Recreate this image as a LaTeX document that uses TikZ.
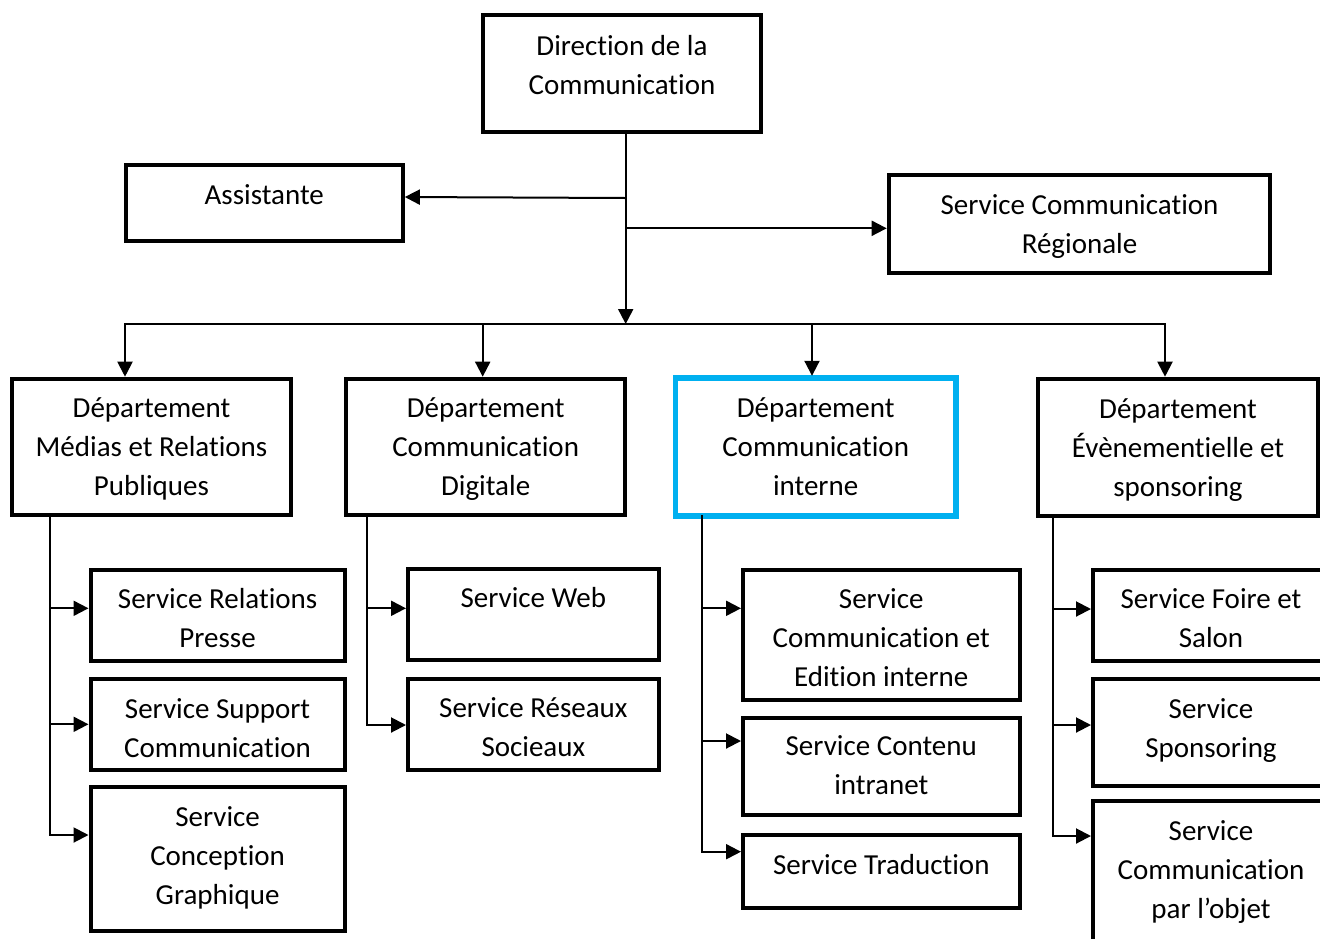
\documentclass[tikz,border=0pt]{standalone}
\usepackage{fontspec}
\setmainfont{Carlito}[RawFeature={-liga,-clig,-calt,-dlig}]
\usetikzlibrary{arrows.meta,calc}
\definecolor{skyblue}{RGB}{0,176,240}

% \orgunit[style]{name}{left}{top}{right}{bottom}{first baseline}{text}
\newcommand\orgunit[8][]{%
  \pgfmathsetmacro\unitw{#5-#3}%
  \pgfmathsetmacro\unith{#6-#4}%
  \node[unit,#1] (#2) at (#3,#4)
    {\parbox[t][\unith pt][t]{\unitw pt}{\centering\fontsize{29}{39}\selectfont\rule{0pt}{#7pt}#8\par}};%
}

\tikzset{
  unit/.style={draw=black, line width=4pt, fill=white, inner sep=0pt,
    outer sep=0pt, anchor=north west},
  highlight/.style={draw=skyblue, line width=5.5pt},
  conn/.style={draw=black, line width=2pt, line cap=rect},
  arr/.style={conn, -{Triangle[length=15pt,width=15pt]}},
  arrbox/.style={arr, shorten >=2pt},
}

\begin{document}
\begin{tikzpicture}[x=1pt, y=-1pt]
  \useasboundingbox (0,0) rectangle (1320,938);
  \clip (0,0) rectangle (1320,938);
  \fill[white] (0,0) rectangle (1320,938);

  % top level
  \orgunit{dir}{483}{14.7}{761}{132}{40.3}{Direction de la\\Communication}
  \orgunit{asst}{125.8}{164.5}{402.8}{240.5}{39.5}{Assistante}
  \orgunit{reg}{888.7}{175}{1270.3}{272.8}{39.3}{Service Communication\\Régionale}

  % departments
  \orgunit{dmed}{12}{378.7}{291}{515}{38.5}{Département\\Médias et Relations\\Publiques}
  \orgunit{ddig}{346}{378.7}{625.3}{515.3}{38.6}{Département\\Communication\\Digitale}
  \orgunit[highlight]{dint}{675.5}{377.8}{955.8}{515.8}{40}{Département\\Communication\\interne}
  \orgunit{deve}{1038}{378.7}{1318}{515.5}{39.6}{Département\\Évènementielle et\\sponsoring}

  % services
  \orgunit{spre}{90.5}{570}{344.7}{661}{38}{Service Relations\\Presse}
  \orgunit{ssup}{90.5}{679}{344.7}{770.3}{39.3}{Service Support\\Communication}
  \orgunit{scon}{90.5}{787}{344.7}{930.5}{39.7}{Service\\Conception\\Graphique}

  \orgunit{sweb}{408}{569}{658.7}{660}{38.6}{Service Web}
  \orgunit{sres}{408}{678.7}{658.7}{770.3}{39}{Service Réseaux\\Socieaux}

  \orgunit{sedi}{743}{569.7}{1019.5}{699.7}{38.6}{Service\\Communication et\\Edition interne}
  \orgunit{scnt}{743}{717.8}{1019.5}{814.5}{37.5}{Service Contenu\\intranet}
  \orgunit{stra}{743}{834.5}{1019.5}{907.8}{39.5}{Service Traduction}

  \orgunit{sfoi}{1093}{569.5}{1329}{661}{38.8}{Service Foire et\\Salon}
  \orgunit{sspo}{1093}{679}{1329}{786}{39.3}{Service\\Sponsoring}
  \orgunit{sobj}{1093}{800.5}{1329}{960}{39.5}{Service\\Communication\\par l’objet}

  % trunk and staff links
  \coordinate (bus) at (625.7,324);
  \coordinate (ja) at (625.7,198);
  \coordinate (jr) at (625.7,228.3);
  \draw[arr] (dir.south -| bus) -- (bus);
  \draw[arrbox] (ja) -- ($(asst.east |- ja)+(0,-1)$);
  \draw[arrbox] (jr) -- (reg.west |- jr);

  % department bus
  \coordinate (b1) at (125,324);
  \coordinate (b2) at (482.7,324);
  \coordinate (b3) at (812,324);
  \coordinate (b4) at (1165,324);
  \draw[conn] (b1) -- (b4);
  \draw[arrbox] (b1) -- (b1 |- dmed.north);
  \draw[arrbox] (b2) -- (b2 |- ddig.north);
  \draw[arrbox] (b3) -- (b3 |- dint.north);
  \draw[arrbox] (b4) -- (b4 |- deve.north);

  % Médias et Relations Publiques
  \coordinate (m1) at (50,608.3);
  \coordinate (m2) at (50,724.3);
  \coordinate (m3) at (50,835);
  \draw[conn] (dmed.south -| m3) -- (m3);
  \draw[arrbox] (m1) -- (m1 -| spre.west);
  \draw[arrbox] (m2) -- (m2 -| ssup.west);
  \draw[arrbox] (m3) -- (m3 -| scon.west);

  % Communication Digitale
  \coordinate (g1) at (367.3,608.3);
  \coordinate (g2) at (367.3,725);
  \draw[conn] (ddig.south -| g2) -- (g2);
  \draw[arrbox] (g1) -- (g1 -| sweb.west);
  \draw[arrbox] (g2) -- (g2 -| sres.west);

  % Communication interne
  \coordinate (i1) at (702.2,608.3);
  \coordinate (i2) at (702.2,741);
  \coordinate (i3) at (702.2,851.7);
  \draw[conn] (dint.south -| i3) -- (i3);
  \draw[arrbox] (i1) -- (i1 -| sedi.west);
  \draw[arrbox] (i2) -- (i2 -| scnt.west);
  \draw[arrbox] (i3) -- (i3 -| stra.west);

  % Évènementielle et sponsoring
  \coordinate (e1) at (1052.7,609);
  \coordinate (e2) at (1052.7,725);
  \coordinate (e3) at (1052.7,836);
  \draw[conn] (deve.south -| e3) -- (e3);
  \draw[arrbox] (e1) -- (e1 -| sfoi.west);
  \draw[arrbox] (e2) -- (e2 -| sspo.west);
  \draw[arrbox] (e3) -- (e3 -| sobj.west);
\end{tikzpicture}
\end{document}
